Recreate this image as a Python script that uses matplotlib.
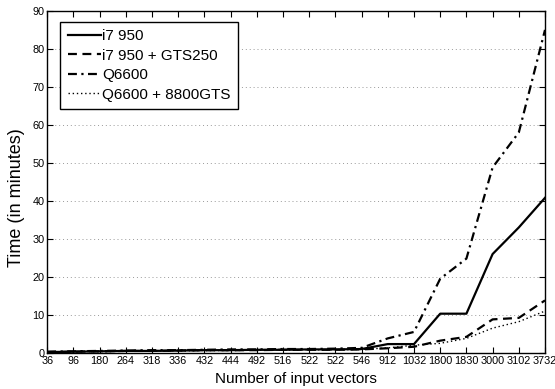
import numpy as np
import matplotlib.pyplot as plt

plt.rcParams['font.family'] = ['Liberation Sans', 'DejaVu Sans']

labels = ["36", "96", "180", "264", "318", "336", "432", "444", "492", "516",
          "522", "522", "546", "912", "1032", "1800", "1830", "3000", "3102", "3732"]

i7 = [0.2, 0.3, 0.4, 0.5, 0.5, 0.6, 0.7, 0.7, 0.8, 0.8,
      0.9, 0.9, 1.0, 2.3, 2.3, 10.3, 10.3, 26.0, 33.0, 40.8]
i7_gts = [0.2, 0.3, 0.4, 0.5, 0.5, 0.6, 0.7, 0.7, 0.7, 0.8,
          0.8, 0.8, 0.9, 1.2, 1.6, 3.2, 4.2, 8.8, 9.2, 13.8]
q6600 = [0.3, 0.4, 0.5, 0.6, 0.7, 0.7, 0.8, 0.9, 0.9, 1.0,
         1.0, 1.1, 1.3, 3.8, 5.5, 19.5, 24.8, 48.8, 58.0, 85.0]
q6600_gts = [0.2, 0.3, 0.3, 0.4, 0.5, 0.5, 0.6, 0.6, 0.7, 0.7,
             0.8, 0.8, 0.9, 1.3, 2.0, 2.5, 3.8, 6.5, 8.2, 11.0]

x = np.arange(len(labels))

fig = plt.figure(figsize=(5.55, 3.89), dpi=100)
ax = fig.add_axes([0.085, 0.093, 0.897, 0.879])

ax.plot(x, i7, color='black', lw=1.6, ls='-', label='i7 950')
ax.plot(x, i7_gts, color='black', lw=1.6, ls=(0, (4, 2.5)), label='i7 950 + GTS250')
ax.plot(x, q6600, color='black', lw=1.6, ls=(0, (4, 2, 1, 2)), label='Q6600')
ax.plot(x, q6600_gts, color='black', lw=1.0, ls=(0, (1, 2)), label='Q6600 + 8800GTS')

ax.set_xlim(0, len(labels) - 1)
ax.set_ylim(0, 90)
ax.set_xticks(x)
ax.set_xticklabels(labels, fontsize=7.8)
ax.set_yticks(np.arange(0, 91, 10))
ax.tick_params(axis='y', labelsize=7.8)
ax.tick_params(direction='in', top=True, right=True, length=4, pad=2)
ax.yaxis.grid(True, ls=(0, (1, 3)), color='#999999', lw=0.7)
ax.set_axisbelow(True)
for s in ax.spines.values():
    s.set_linewidth(1.0)

ax.set_xlabel('Number of input vectors', fontsize=11)
ax.set_ylabel('Time (in minutes)', fontsize=13)
ax.xaxis.set_label_coords(0.5, -0.055)
ax.yaxis.set_label_coords(-0.045, 0.455)

leg = ax.legend(loc='upper left', fontsize=11, fancybox=False, framealpha=1,
                edgecolor='black', handlelength=2.2, handletextpad=0.05,
                labelspacing=0.35, borderpad=0.5, borderaxespad=0,
                bbox_to_anchor=(0.026, 0.968))
leg.get_frame().set_linewidth(1.0)

fig.savefig('out.png', dpi=100)
